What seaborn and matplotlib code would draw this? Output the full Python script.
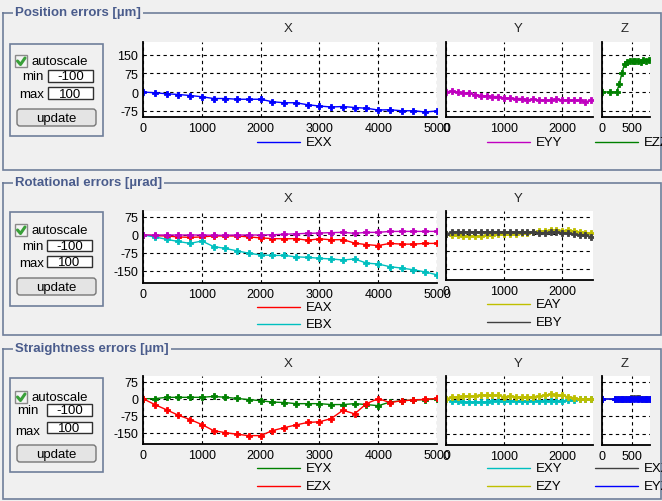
import numpy as np
import pandas as pd
import matplotlib
matplotlib.use("Agg")
import matplotlib.pyplot as plt
from matplotlib.patches import Rectangle, FancyBboxPatch
import seaborn as sns

sns.set_style("white")
plt.rcParams['font.family'] = ['Liberation Sans', 'DejaVu Sans']

# ---------------- data ----------------
x_long = [0, 200, 400, 600, 800, 1000, 1200, 1400, 1600, 1800, 2000, 2200, 2400,
          2600, 2800, 3000, 3200, 3400, 3600, 3800, 4000, 4200, 4400, 4600, 4800, 5000]
y_long = [0, 100, 200, 300, 400, 500, 600, 700, 800, 900, 1000, 1100, 1200,
          1300, 1400, 1500, 1600, 1700, 1800, 1900, 2000, 2100, 2200, 2300, 2400, 2500]
z_pos_ezz = [0, 133, 244, 289, 333, 378, 422, 467, 511, 556, 600, 644, 689, 733, 778]
z_pos_str = [0, 222, 267, 311, 356, 400, 444, 489, 533, 578, 622, 667, 711, 756, 800]

# Position errors [µm]
EXX = [0, -3, -7, -10, -14, -19, -26, -26, -29, -29, -29, -39, -43, -43, -51, -56,
       -60, -58, -62, -65, -72, -71, -75, -75, -80, -76]
EYY = [0, 4, 0, -5, -5, -10, -14, -15, -18, -18, -24, -25, -26, -26, -31, -29,
       -33, -33, -33, -29, -31, -33, -33, -33, -39, -33]
EZZ = [0, 0, 0, 32, 78, 114, 122, 125, 125, 125, 126, 122, 128, 126, 129]

# Rotational errors [µrad]
EAX = [0, -3, -4, -8, -10, -8, -4, -4, -4, -8, -12, -15, -16, -15, -22, -16,
       -20, -19, -34, -40, -44, -35, -38, -38, -35, -35]
EBX = [0, -8, -18, -27, -35, -25, -48, -56, -66, -76, -83, -85, -85, -91, -93, -97,
       -100, -104, -100, -117, -121, -132, -138, -145, -154, -166]
ECX = [0, 0, 0, 0, 0, 0, -1, -1, 0, 0, 0, 1, 3, 5, 7, 8, 10, 11, 7, 11, 11, 15, 15, 15, 15, 15]
EAY = [0, -4, -6, -7, -7, -7, -9, -6, -3, -1, 0, 1, 2, 3, 6, 10, 12, 15, 16, 19, 15, 16, 13, 9, 6, 3]
EBY = [0, 8, 10, 10, 10, 10, 10, 10, 10, 10, 10, 10, 10, 10, 7, 9, 6, 6, 7, 7, 6, 3, -2, -4, -5, -11]

# Straightness errors [µm]
EYX = [0, 0, 6, 6, 6, 6, 10, 6, 1, -4, -9, -15, -17, -22, -22, -22, -26, -26, -22, -26,
       -31, -15, -9, -6, -4, 0]
EZX = [0, -26, -49, -73, -92, -114, -141, -150, -157, -163, -163, -141, -128, -116, -105,
       -102, -88, -51, -67, -22, 0, -17, -9, -6, -3, 1]
EXY = [0, -9, -10, -12, -13, -13, -13, -12, -10, -10, -9, -9, -9, -9, -7, -7, -7, -7, -7,
       -10, -9, -4, -3, -1, 0, 0]
EZY = [0, 9, 10, 12, 13, 15, 17, 17, 17, 16, 10, 13, 10, 7, 10, 10, 13, 17, 20, 17, 17, 9, 6, 0, 0, 0]
EXZ = [0, 0, 0, 0, 0, 1, 2, 3, 4, 5, 6, 2, 1, 0, 0]
EYZ = [0, 0, 0, 0, -1, -2, -2, -2, -2, -1, -1, -2, -1, 0, 0]

panel_titles = ["Position errors [µm]", "Rotational errors [µrad]", "Straightness errors [µm]"]
x_ticks = [0, 1000, 2000, 3000, 4000, 5000]
y_ticks_plot = [0, 1000, 2000]
z_ticks = [0, 500]
row1_yticks = [-75, 0, 75, 150]
row23_yticks = [-150, -75, 0, 75]

COL = {
    'EXX': '#0000ff', 'EYY': '#c000c0', 'EZZ': '#008000',
    'EAX': '#ff0000', 'EBX': '#00bfbf', 'ECX': '#bf00bf', 'EAY': '#bfbf00', 'EBY': '#404040',
    'EYX': '#008000', 'EZX': '#ff0000', 'EXY': '#00bfbf', 'EZY': '#bfbf00',
    'EXZ': '#404040', 'EYZ': '#0000ff',
}

W, H = 662, 502
BG = '#f0f0f0'
FS = 9

fig = plt.figure(figsize=(W / 100, H / 100), dpi=100, facecolor=BG)

# overlay for GUI decoration in pixel coordinates
ov = fig.add_axes([0, 0, 1, 1], zorder=0)
ov.set_xlim(0, W)
ov.set_ylim(H, 0)
ov.axis('off')
ov.set_facecolor(BG)


def px_axes(x0, y0, x1, y1):
    return fig.add_axes([x0 / W, 1 - y1 / H, (x1 - x0) / W, (y1 - y0) / H], zorder=2)


def style_ax(ax, xlim, ylim, xticks, yticks, show_ylabels):
    ax.set_facecolor('white')
    ax.set_xlim(*xlim)
    ax.set_ylim(*ylim)
    ax.set_xticks(xticks)
    ax.set_yticks(yticks)
    ax.set_xticklabels([str(t) for t in xticks])
    if show_ylabels:
        ax.set_yticklabels([str(t) for t in yticks])
    else:
        ax.set_yticklabels([])
    ax.tick_params(length=0, pad=3.5, labelsize=FS, colors='black')
    for s in ['top', 'right']:
        ax.spines[s].set_visible(False)
    for s in ['left', 'bottom']:
        ax.spines[s].set_color('black')
        ax.spines[s].set_linewidth(1.3)
    ax.grid(True, color='black', linestyle=(0, (3, 3)), linewidth=0.8)
    ax.set_axisbelow(True)
    ax.set_xlabel('')
    ax.set_ylabel('')


def plot_series(ax, xs, series):
    for name, vals in series:
        df = pd.DataFrame({'x': xs, 'y': vals})
        sns.lineplot(data=df, x='x', y='y', ax=ax, color=COL[name], marker='P',
                     markersize=4.5, markeredgewidth=0.6, markeredgecolor=COL[name],
                     markerfacecolor=COL[name], linewidth=1, legend=False)


rows = [
    dict(top=14, bot=171, ax_top=43, ax_bot=118, ylim=(-100, 200), yt=row1_yticks,
         box=(45, 137), chk=56, mn=(71, 83), mx=(88, 100), btn=(110, 127),
         mnl=(33, 77), mxl=(32, 95), tb_x=(48, 93), title_y=29,
         ybot=118, zbot=118),
    dict(top=184, bot=336, ax_top=212, ax_bot=284, ylim=(-200, 100), yt=row23_yticks,
         box=(213, 307), chk=225, mn=(241, 252), mx=(257, 268), btn=(279, 296),
         mnl=(33, 247), mxl=(32, 264), tb_x=(47, 92), title_y=199,
         ybot=281, zbot=None),
    dict(top=350, bot=500, ax_top=377, ax_bot=445, ylim=(-200, 100), yt=row23_yticks,
         box=(379, 473), chk=392, mn=(405, 417), mx=(423, 434), btn=(446, 463),
         mnl=(28, 411), mxl=(28, 432), tb_x=(47, 92), title_y=364,
         ybot=446, zbot=446),
]

FRAME = '#6f7e9a'
TITLE_C = '#4a5c8c'

for i, r in enumerate(rows):
    # group frame
    ov.plot([3, 3, 661, 661, 3], [r['top'], r['bot'], r['bot'], r['top'], r['top']],
            color=FRAME, lw=1.2, solid_joinstyle='miter')
    ov.text(15, r['top'] - 1, panel_titles[i], fontsize=9.5, fontweight='bold', color=TITLE_C,
            ha='left', va='center',
            bbox=dict(facecolor=BG, edgecolor='none', pad=1.5))
    # control box
    b0, b1 = r['box']
    ov.add_patch(Rectangle((10, b0), 93, b1 - b0, fill=False, edgecolor=FRAME, lw=1.2))
    # checkbox
    c = r['chk']
    ov.add_patch(Rectangle((15, c), 12, 12, facecolor='#f4f4f4', edgecolor='#8a8a8a', lw=1))
    ov.plot([17.5, 20.5, 25], [c + 6, c + 9.5, c + 3], color='#3aa03a', lw=2.2,
            solid_capstyle='round', solid_joinstyle='round')
    ov.text(32, c + 6, 'autoscale', fontsize=9.5, ha='left', va='center', color='black')
    # min / max text boxes
    tx0, tx1 = r['tb_x']
    for (y0, y1), label, lpos, val in [(r['mn'], 'min', r['mnl'], '-100'),
                                         (r['mx'], 'max', r['mxl'], '100')]:
        ov.add_patch(Rectangle((tx0, y0), tx1 - tx0, y1 - y0, facecolor='white',
                               edgecolor='#303030', lw=1))
        ov.text((tx0 + tx1) / 2, (y0 + y1) / 2 + 0.5, val, fontsize=9.5, ha='center',
                va='center', color='black')
        ov.text(lpos[0], lpos[1], label, fontsize=9.5, ha='center', va='center', color='black')
    # update button
    y0, y1 = r['btn']
    ov.add_patch(FancyBboxPatch((17, y0), 79, y1 - y0,
                                boxstyle='round,pad=0,rounding_size=3',
                                facecolor='#e4e4e4', edgecolor='#767676', lw=1))
    ov.text(56.5, (y0 + y1) / 2 + 0.5, 'update', fontsize=9.5, ha='center', va='center',
            color='black')

    # axes titles
    ov.text(288, r['title_y'], 'X', fontsize=9.5, ha='center', va='center')
    ov.text(518, r['title_y'], 'Y', fontsize=9.5, ha='center', va='center')
    if r['zbot'] is not None:
        ov.text(625, r['title_y'], 'Z', fontsize=9.5, ha='center', va='center')

# ---------------- row 1 ----------------
r = rows[0]
axX = px_axes(143, r['ax_top'], 437, r['ax_bot'])
plot_series(axX, x_long, [('EXX', EXX)])
style_ax(axX, (0, 5000), r['ylim'], x_ticks, r['yt'], True)
axY = px_axes(446, r['ax_top'], 593, r['ybot'])
plot_series(axY, y_long, [('EYY', EYY)])
style_ax(axY, (0, 2530), r['ylim'], y_ticks_plot, r['yt'], False)
axZ = px_axes(602, r['ax_top'], 650, r['zbot'])
plot_series(axZ, z_pos_ezz, [('EZZ', EZZ)])
style_ax(axZ, (0, 800), r['ylim'], z_ticks, r['yt'], False)

# ---------------- row 2 ----------------
r = rows[1]
axX = px_axes(143, r['ax_top'], 437, r['ax_bot'])
plot_series(axX, x_long, [('EAX', EAX), ('EBX', EBX), ('ECX', ECX)])
style_ax(axX, (0, 5000), r['ylim'], x_ticks, r['yt'], True)
axY = px_axes(446, r['ax_top'], 593, r['ybot'])
plot_series(axY, y_long, [('EAY', EAY), ('EBY', EBY)])
style_ax(axY, (0, 2530), r['ylim'], y_ticks_plot, r['yt'], False)

# ---------------- row 3 ----------------
r = rows[2]
axX = px_axes(143, r['ax_top'], 437, r['ax_bot'])
plot_series(axX, x_long, [('EYX', EYX), ('EZX', EZX)])
style_ax(axX, (0, 5000), r['ylim'], x_ticks, r['yt'], True)
axY = px_axes(446, r['ax_top'], 593, r['ybot'])
plot_series(axY, y_long, [('EXY', EXY), ('EZY', EZY)])
style_ax(axY, (0, 2530), r['ylim'], y_ticks_plot, r['yt'], False)
axZ = px_axes(602, r['ax_top'], 650, r['zbot'])
plot_series(axZ, z_pos_str, [('EXZ', EXZ), ('EYZ', EYZ)])
style_ax(axZ, (0, 800), r['ylim'], z_ticks, r['yt'], False)

# ---------------- legends (drawn in overlay) ----------------
legends = [
    (257, 143, 'EXX'), (487, 143, 'EYY'), (595, 143, 'EZZ'),
    (257, 308, 'EAX'), (257, 325, 'EBX'), (487, 305, 'EAY'), (487, 323, 'EBY'),
    (257, 469, 'EYX'), (257, 487, 'EZX'), (487, 469, 'EXY'), (487, 487, 'EZY'),
    (595, 469, 'EXZ'), (595, 487, 'EYZ'),
]
for lx, ly, name in legends:
    ov.plot([lx, lx + 43], [ly, ly], color=COL[name], lw=1)
    ov.text(lx + 49, ly, name, fontsize=9.5, ha='left', va='center', color='black')

fig.savefig('out.png', dpi=100, facecolor=BG)
